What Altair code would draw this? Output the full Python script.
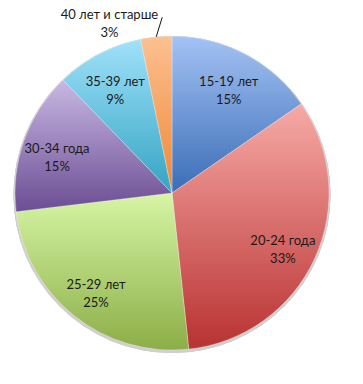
import math
import altair as alt
import pandas as pd

categories = ["15-19 лет", "20-24 года", "25-29 лет", "30-34 года", "35-39 лет", "40 лет и старше"]
values = [15.4, 32.9, 24.8, 14.7, 9.0, 3.2]
pct_labels = ["15%", "33%", "25%", "15%", "9%", "3%"]

top_colors = ["#a4c2f4", "#f7aaa6", "#d7f5a5", "#c8b8e3", "#a0e1fa", "#fcc092"]
bottom_colors = ["#3a6db6", "#b83232", "#8cae47", "#6b4d93", "#34a4c2", "#ef8735"]

df = pd.DataFrame({
    "cat": categories,
    "value": values,
    "pct": pct_labels,
    "order": list(range(len(categories))),
})

CX, CY, R = 172, 193, 157

base = alt.Chart(df).transform_window(
    cum="sum(value)", sort=[alt.SortField("order")], frame=[None, 0]
).transform_calculate(
    start="datum.cum - datum.value",
    mid="datum.cum - datum.value / 2",
    label="datum.cat + '\\n' + datum.pct",
)

theta_scale = alt.Scale(domain=[0, 100])

shadow = alt.Chart(df).mark_arc(
    radius=R + 1.5, theta=0, theta2=2 * math.pi, color="#cfcfcf", opacity=0.6
).encode(x=alt.value(CX), y=alt.value(CY + 1.5))

layers = [shadow]
for i, cat in enumerate(categories):
    grad = alt.Gradient(
        gradient="linear",
        stops=[alt.GradientStop(offset=0, color=top_colors[i]),
               alt.GradientStop(offset=1, color=bottom_colors[i])],
        x1=0, x2=0, y1=0, y2=1,
    )
    layers.append(
        base.transform_filter(alt.datum.cat == cat)
        .mark_arc(radius=R, fill=grad, stroke="white", strokeWidth=0.3)
        .encode(
            theta=alt.Theta("start:Q", scale=theta_scale),
            theta2="end:Q",
            x=alt.value(CX), y=alt.value(CY),
        )
        .transform_calculate(end="datum.cum")
    )

text_style = dict(font="Lato", fontSize=13, lineBreak="\n", lineHeight=18, color="#1a1a1a")

inside = base.transform_filter(alt.datum.value > 5).mark_text(
    radius=122, dy=-3, **text_style
).encode(
    theta=alt.Theta("mid:Q", scale=theta_scale),
    text="label:N",
    x=alt.value(CX), y=alt.value(CY),
)

outside = base.transform_filter(alt.datum.value <= 5).mark_text(
    radius=175, dx=-45, dy=-4, **text_style
).encode(
    theta=alt.Theta("mid:Q", scale=theta_scale),
    text="label:N",
    x=alt.value(CX), y=alt.value(CY),
)

leader = base.transform_filter(alt.datum.value <= 5).transform_calculate(
    a1="datum.mid / 100 * 2 * PI",
    a2="datum.mid / 100 * 2 * PI + 0.045",
).transform_calculate(
    lx1=f"{CX} + {R} * sin(datum.a1)",
    ly1=f"{CY} - {R} * cos(datum.a1)",
    lx2=f"{CX} + 176 * sin(datum.a2)",
    ly2=f"{CY} - 176 * cos(datum.a2)",
).mark_rule(color="#111111", strokeWidth=1).encode(
    x=alt.X("lx1:Q", scale=None),
    y=alt.Y("ly1:Q", scale=None),
    x2="lx2:Q",
    y2="ly2:Q",
)

chart = alt.layer(*layers, inside, leader, outside).properties(
    width=363, height=384, padding=0, autosize=alt.AutoSizeParams(type="none"),
    background="white",
).configure_view(stroke=None)

chart.save("out.html", embed_options={"renderer": "svg", "actions": False})
